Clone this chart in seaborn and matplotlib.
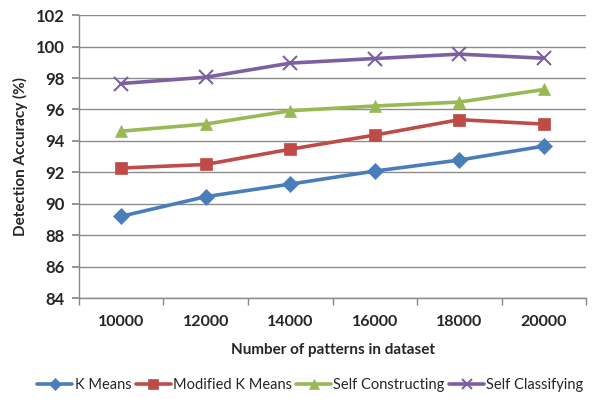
import matplotlib
matplotlib.use("Agg")
import matplotlib.pyplot as plt
import seaborn as sns
import pandas as pd
import numpy as np

categories = ["10000", "12000", "14000", "16000", "18000", "20000"]
k_means = [89.2, 90.45, 91.25, 92.08, 92.78, 93.67]
modified_k_means = [92.27, 92.5, 93.47, 94.37, 95.35, 95.07]
self_constructing = [94.62, 95.07, 95.92, 96.22, 96.47, 97.27]
self_classifying = [97.65, 98.05, 98.95, 99.24, 99.52, 99.26]
series_names = ["K Means", "Modified K Means", "Self Constructing", "Self Classifying"]

rows = []
for name, vals in zip(series_names, [k_means, modified_k_means, self_constructing, self_classifying]):
    for i, (c, v) in enumerate(zip(categories, vals)):
        rows.append({"pos": i, "cat": c, "value": v, "series": name})
df = pd.DataFrame(rows)

sns.set_theme(style="white")
plt.rcParams['font.family'] = ['Lato', 'DejaVu Sans']

colors = {"K Means": "#4A7EBB", "Modified K Means": "#BE4B48",
          "Self Constructing": "#98B954", "Self Classifying": "#7D60A0"}
markers = {"K Means": "D", "Modified K Means": "s",
           "Self Constructing": "^", "Self Classifying": "x"}
msizes = {"K Means": 8, "Modified K Means": 9, "Self Constructing": 9, "Self Classifying": 10}

fig = plt.figure(figsize=(5.97, 3.99), dpi=100)
ax = fig.add_axes([0.132, 0.253, 0.85, 0.709])

for name in series_names:
    sub = df[df.series == name]
    sns.lineplot(data=sub, x="pos", y="value", ax=ax, color=colors[name],
                 marker=markers[name], markersize=msizes[name], linewidth=2.6,
                 markeredgecolor=colors[name], markeredgewidth=1.5 if name == "Self Classifying" else 0.5,
                 label=name, legend=False)

ax.set_ylim(84, 102)
ax.set_yticks(np.arange(84, 103, 2))
ax.set_xlim(-0.5, len(categories) - 0.5)
ax.set_xticks(range(len(categories)))
ax.set_xticklabels(categories)
ax.set_xticks(np.arange(-0.5, len(categories), 1), minor=True)
ax.tick_params(axis='x', which='major', length=0, pad=12, labelsize=11.5)
ax.tick_params(axis='x', which='minor', length=5, color='#888888', direction='out', bottom=True)
ax.tick_params(axis='y', length=5, color='#888888', direction='out', left=True, labelsize=12, pad=5)
for lab in ax.get_xticklabels() + ax.get_yticklabels():
    lab.set_fontweight('bold')

ax.grid(axis='y', color='#8c8c8c', linewidth=1)
ax.set_axisbelow(True)
for s in ['top', 'right']:
    ax.spines[s].set_visible(False)
for s in ['left', 'bottom']:
    ax.spines[s].set_color('#888888')
    ax.spines[s].set_linewidth(1)

ax.set_xlabel("Number of patterns in dataset", fontsize=11, fontweight='bold', labelpad=10)
ax.set_ylabel("Detection Accuracy (%)", fontsize=11, fontweight='bold', labelpad=6)

handles, labels = ax.get_legend_handles_labels()
fig.legend(handles, labels, loc='lower center', bbox_to_anchor=(0.52, -0.015), ncol=4,
           frameon=False, fontsize=10.5, handlelength=2.4, handletextpad=0.15,
           columnspacing=0.3, markerscale=0.75)

fig.savefig("out.png", dpi=100)
